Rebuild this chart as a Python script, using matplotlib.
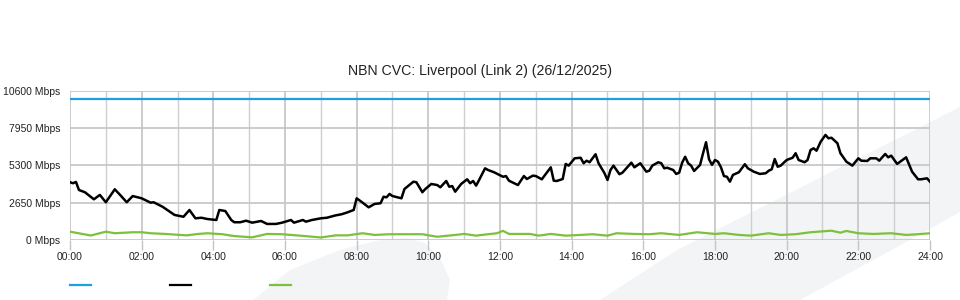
import matplotlib
matplotlib.use('Agg')
import matplotlib.pyplot as plt
from matplotlib.lines import Line2D
from matplotlib.patches import Polygon
from matplotlib.ticker import MultipleLocator, FixedLocator
from matplotlib.transforms import ScaledTranslation
import numpy as np

plt.rcParams['font.family'] = ['Liberation Sans', 'DejaVu Sans']

title = 'NBN CVC: Liverpool (Link 2) (26/12/2025)'

# y axis ticks (Mbps)
y_ticks = [0, 2650, 5300, 7950, 10600]
x_tick_labels = ['00:00', '02:00', '04:00', '06:00', '08:00', '10:00', '12:00',
                 '14:00', '16:00', '18:00', '20:00', '22:00', '24:00']

# capacity (blue)
cap_min = [0, 1440]
cap_mbps = [10000, 10000]

# traffic (black), minutes after midnight / Mbps
black_min = [0, 5, 10, 15, 25, 40, 50, 60, 75, 85, 95, 105, 120, 135, 140, 155,
             175, 190, 200, 210, 220, 230, 245, 250, 260, 270, 275, 285, 295, 305,
             320, 330, 345, 355, 370, 375, 390, 395, 405, 420, 430, 445, 455, 465,
             475, 480, 490, 500, 510, 520, 525, 530, 535, 540, 555, 560, 575, 580,
             590, 595, 605, 615, 620, 630, 635, 640, 645, 655, 665, 670, 675, 680,
             685, 695, 700, 710, 725, 730, 735, 750, 760, 765, 775, 780, 790, 805,
             810, 815, 825, 830, 835, 845, 855, 860, 865, 870, 880, 885, 895, 900,
             905, 910, 920, 925, 940, 945, 955, 965, 970, 975, 985, 990, 995, 1000,
             1010, 1015, 1020, 1025, 1030, 1035, 1040, 1045, 1055, 1060, 1065, 1070,
             1075, 1080, 1085, 1090, 1095, 1100, 1105, 1110, 1120, 1130, 1135, 1145,
             1155, 1165, 1170, 1175, 1180, 1185, 1190, 1200, 1210, 1215, 1220, 1230,
             1235, 1240, 1245, 1250, 1257, 1265, 1270, 1275, 1285, 1290, 1300, 1310,
             1320, 1325, 1335, 1340, 1350, 1355, 1365, 1370, 1375, 1385, 1400, 1410,
             1420, 1425, 1435, 1440]
black_mbps = [4100, 4030, 4120, 3550, 3390, 2890, 3200, 2680, 3600, 3150, 2680, 3120,
              2960, 2650, 2680, 2360, 1780, 1650, 2130, 1540, 1580, 1490, 1420, 2130,
              2060, 1420, 1260, 1260, 1370, 1230, 1350, 1140, 1140, 1230, 1420, 1230,
              1420, 1300, 1420, 1540, 1580, 1750, 1830, 1970, 2130, 2960, 2650, 2320,
              2560, 2610, 3070, 3030, 3270, 3120, 2960, 3620, 4140, 4100, 3390, 3620,
              3980, 3900, 3740, 4190, 3780, 3830, 3430, 3980, 4310, 4030, 4190, 3860,
              4260, 5090, 4970, 4810, 4490, 4540, 4210, 3900, 4540, 4330, 4570, 4540,
              4310, 5160, 4210, 4190, 4330, 5400, 5280, 5800, 5840, 5450, 5630, 5520,
              6090, 5450, 4740, 4260, 4970, 5280, 4670, 4780, 5490, 5160, 5450, 4850,
              4920, 5280, 5520, 5450, 5090, 5130, 4970, 4690, 4780, 5490, 5910, 5450,
              5280, 4900, 5330, 6160, 6940, 5730, 5330, 5680, 5560, 5160, 4540, 4490,
              4140, 4620, 4810, 5380, 5090, 4850, 4690, 4740, 4920, 5020, 5750, 5200,
              5280, 5680, 5840, 6160, 5680, 5520, 5680, 6390, 6510, 6340, 6980, 7460,
              7220, 7260, 6870, 6160, 5560, 5280, 5800, 5630, 5610, 5800, 5800, 5630,
              6110, 5870, 5990, 5400, 5870, 4850, 4310, 4310, 4380, 4140]

# traffic (green)
green_min = [0, 35, 60, 75, 105, 120, 135, 160, 195, 215, 230, 255, 275, 305, 330,
             355, 385, 420, 445, 465, 490, 510, 535, 560, 590, 615, 645, 660, 680,
             700, 715, 725, 735, 770, 785, 805, 830, 855, 875, 900, 915, 945, 970,
             990, 1020, 1050, 1080, 1095, 1120, 1140, 1170, 1190, 1215, 1240, 1275,
             1290, 1300, 1320, 1345, 1375, 1400, 1420, 1440]
green_mbps = [590, 320, 590, 480, 550, 550, 480, 430, 330, 430, 480, 410, 280, 190,
              430, 410, 310, 180, 330, 330, 480, 360, 410, 410, 410, 230, 360, 430,
              310, 410, 480, 650, 430, 430, 310, 430, 310, 360, 410, 310, 480, 430,
              410, 480, 360, 550, 430, 480, 360, 310, 480, 360, 410, 550, 660, 520,
              640, 480, 430, 480, 360, 410, 480]

blue = '#1ba1e2'
black = '#000000'
green = '#7dc03c'
grid_col = '#c4c4c4'
text_col = '#222222'

W, H = 960, 300
fig = plt.figure(figsize=(W / 100, H / 100), dpi=100)
fig.patch.set_facecolor('white')

# faint background watermark shapes
wm_col = '#f3f4f6'
band = [(600, 300), (677, 250), (960, 107), (960, 212), (910, 240), (800, 300)]
blob = [(253, 300), (290, 270), (340, 250), (380, 240), (407, 238), (425, 243),
        (440, 258), (450, 280), (447, 300)]
for shape in (band, blob):
    pts = [(x / W, 1 - y / H) for x, y in shape]
    fig.patches.append(Polygon(pts, closed=True, transform=fig.transFigure,
                               facecolor=wm_col, edgecolor='none', zorder=-5))

ax = fig.add_axes([70 / W, 1 - 240 / H, 860 / W, 149.3 / H])
ax.set_facecolor('none')

hrs = lambda m: np.array(m) / 60.0
ax.plot(hrs(cap_min), cap_mbps, color=blue, lw=1.6, zorder=3)
ax.plot(hrs(black_min), black_mbps, color=black, lw=1.8, zorder=4)
ax.plot(hrs(green_min), green_mbps, color=green, lw=1.6, zorder=3)

ax.set_xlim(0, 24)
ax.set_ylim(0, 10600)

ax.set_xticks(np.arange(0, 25, 2))
ax.set_xticklabels(x_tick_labels, fontsize=7.5, color=text_col)
ax.xaxis.set_minor_locator(MultipleLocator(1))
ax.yaxis.set_major_locator(FixedLocator(y_ticks))
ax.set_yticklabels(['%d Mbps' % v for v in y_ticks], fontsize=7.5, color=text_col)

# y labels sit a couple of pixels above their grid line
for lab in ax.get_yticklabels():
    lab.set_transform(lab.get_transform() + ScaledTranslation(0, 2 / 100, fig.dpi_scale_trans))

ax.tick_params(axis='x', which='major', length=7, width=1, color=grid_col, pad=1.5)
ax.tick_params(axis='x', which='minor', length=0)
ax.tick_params(axis='y', length=0, pad=7)

ax.grid(True, which='major', axis='both', color=grid_col, lw=1.2)
ax.grid(True, which='minor', axis='x', color='#cfcfcf', lw=1.0)
ax.set_axisbelow(True)
for s in ax.spines.values():
    s.set_visible(False)

# title is centred on the figure, not the axes
fig.text(0.5, 1 - 71 / H, title, fontsize=10.2, color=text_col, ha='center', va='center')

# legend swatches (no labels in the original)
for x0, c in zip([70, 170, 270], [blue, black, green]):
    fig.add_artist(Line2D([x0 / W, (x0 + 21) / W], [1 - 285 / H, 1 - 285 / H],
                          color=c, lw=1.6, transform=fig.transFigure))

fig.savefig('out.png', dpi=100)
